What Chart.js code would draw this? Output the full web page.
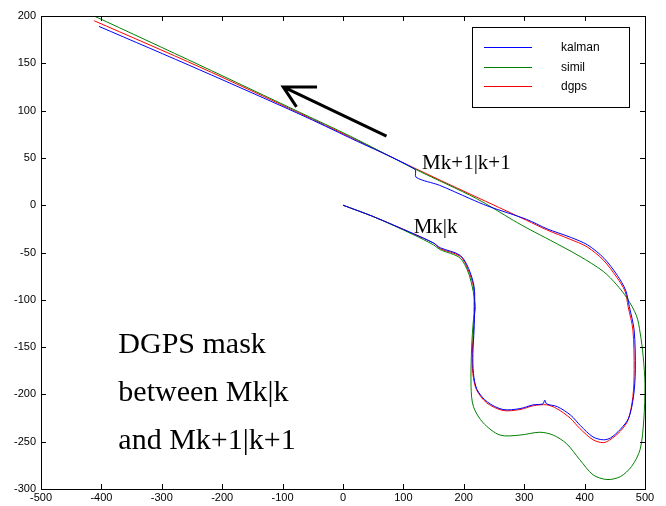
<!DOCTYPE html>
<html>
<head>
<meta charset="utf-8">
<script src="https://cdn.jsdelivr.net/npm/chart.js@4/dist/chart.umd.min.js"></script>
<style>
body { margin: 0; background: #fff; }
#wrap { width: 666px; height: 506px; position: relative; }
</style>
</head>
<body>
<div id="wrap"><canvas id="traj"></canvas></div>
<script>
// vehicle track, metres (x east, y north)
var kalmanX = [0, 50, 116, 150, 161, 194, 208, 217, 218, 217, 215, 216, 222, 239, 265, 293, 315, 331, 334, 337, 355, 377, 393, 414, 431, 443, 459, 473, 481, 484, 482, 474, 468, 454, 432, 405, 377, 338, 304, 240, 210, 160, 121, 119, 12, -71, -237, -404];
var kalmanY = [0, -12, -30, -40, -45, -53, -67, -86, -107, -132, -157, -178, -195, -208, -216, -215, -211, -210, -206, -210, -213, -222, -233, -245, -248, -246, -237, -225, -202, -174, -132, -107, -90, -74, -56, -42, -34, -25, -15, -1, 7, 21, 29.5, 38, 71, 96, 143, 189];

var similX = [0, 50, 116, 150, 161, 194, 210, 219, 216, 213, 212, 216, 232, 260, 293, 326, 348, 370, 392, 414, 437, 459, 478, 492, 498, 500, 497, 492, 486, 470, 453, 431, 392, 343, 310, 282, 221, 123, 12, -71, -237, -412];
var similY = [0, -12, -31, -42, -47, -56, -76, -107, -121, -150, -192, -213, -230, -243, -243, -240, -243, -252, -269, -285, -290, -287, -276, -258, -227, -190, -160, -135, -117, -98, -84, -70, -54, -37, -26, -16, 7, 37, 73, 98, 148, 200];

var dgpsX = [0, 50, 116, 150, 161, 194, 207, 216, 217, 216, 214, 215, 221, 238, 265, 293, 315, 337, 354, 376, 392, 414, 431, 442, 459, 472, 480, 482, 480, 472, 467, 453, 431, 404, 376, 337, 304, 119, 12, -71, -237, -412];
var dgpsY = [0, -12, -30, -40, -46, -54, -68, -86, -107, -132, -157, -178, -195, -209, -217, -216, -212, -211, -215, -225, -236, -248, -251, -248, -239, -227, -202, -174, -132, -107, -91, -76, -58, -44, -36, -26, -16, 39, 72, 97, 146, 195];

var seriesNames = ['kalman', 'simil', 'dgps'];
var seriesColors = ['#0000ff', '#008000', '#ff0000'];

// direction arrow (tail, tip, two barbs)
var arrowX = [72, -99, -43, -77];
var arrowY = [73, 125, 125, 104];

var notes = [
  { text: 'Mk+1|k+1', x: 131, y: 38, size: 21 },
  { text: 'Mk|k', x: 117, y: -29, size: 21 },
  { text: 'DGPS mask', x: -372, y: -156, size: 30 },
  { text: 'between Mk|k', x: -372, y: -207, size: 30 },
  { text: 'and Mk+1|k+1', x: -372, y: -258, size: 30 }
];

function toPoints(xs, ys) {
  return xs.map(function(x, i) { return { x: x, y: ys[i] }; });
}

var tickFont = { family: '"Liberation Sans", Arial, sans-serif', size: 11 };

// box, inward ticks, arrow, labels, legend
var decorations = {
  id: 'decorations',
  afterDatasetsDraw: function(chart) {
    var ctx = chart.ctx, a = chart.chartArea;
    var sx = chart.scales.x, sy = chart.scales.y;
    ctx.save();
    ctx.strokeStyle = '#000';
    ctx.lineWidth = 1;
    ctx.strokeRect(a.left + 0.5, a.top + 0.5, a.right - a.left, a.bottom - a.top);
    ctx.beginPath();
    sx.ticks.forEach(function(t) {
      var p = Math.round(sx.getPixelForValue(t.value)) + 0.5;
      ctx.moveTo(p, a.bottom); ctx.lineTo(p, a.bottom - 5);
      ctx.moveTo(p, a.top); ctx.lineTo(p, a.top + 5);
    });
    sy.ticks.forEach(function(t) {
      var p = Math.round(sy.getPixelForValue(t.value)) + 0.5;
      ctx.moveTo(a.left, p); ctx.lineTo(a.left + 5, p);
      ctx.moveTo(a.right, p); ctx.lineTo(a.right - 5, p);
    });
    ctx.stroke();

    // arrow
    ctx.lineWidth = 3;
    ctx.beginPath();
    var tip = [sx.getPixelForValue(arrowX[1]), sy.getPixelForValue(arrowY[1])];
    ctx.moveTo(sx.getPixelForValue(arrowX[0]), sy.getPixelForValue(arrowY[0]));
    ctx.lineTo(tip[0], tip[1]);
    ctx.moveTo(sx.getPixelForValue(arrowX[2]), sy.getPixelForValue(arrowY[2]));
    ctx.lineTo(tip[0], tip[1]);
    ctx.lineTo(sx.getPixelForValue(arrowX[3]), sy.getPixelForValue(arrowY[3]));
    ctx.stroke();

    // text notes
    ctx.fillStyle = '#000';
    ctx.textBaseline = 'alphabetic';
    ctx.textAlign = 'left';
    notes.forEach(function(n) {
      ctx.font = n.size + 'px "Liberation Serif", "Times New Roman", serif';
      ctx.fillText(n.text, sx.getPixelForValue(n.x), sy.getPixelForValue(n.y));
    });

    // legend box, top right inside the axes
    var bx = a.right - 173, by = a.top + 11, bw = 157, bh = 80;
    ctx.fillStyle = '#fff';
    ctx.fillRect(bx, by, bw, bh);
    ctx.strokeStyle = '#000';
    ctx.lineWidth = 1;
    ctx.strokeRect(bx + 0.5, by + 0.5, bw, bh);
    ctx.font = '12px "Liberation Sans", Arial, sans-serif';
    ctx.textBaseline = 'middle';
    seriesNames.forEach(function(name, i) {
      var ly = Math.round(by + 20 + i * 19.5) + 0.5;
      ctx.strokeStyle = seriesColors[i];
      ctx.beginPath();
      ctx.moveTo(bx + 12, ly);
      ctx.lineTo(bx + 60, ly);
      ctx.stroke();
      ctx.fillStyle = '#000';
      ctx.fillText(name, bx + 89, ly);
    });
    ctx.restore();
  }
};

var tracks = [toPoints(kalmanX, kalmanY), toPoints(similX, similY), toPoints(dgpsX, dgpsY)];

new Chart(document.getElementById('traj'), {
  type: 'scatter',
  data: {
    datasets: tracks.map(function(pts, i) {
      return {
        label: seriesNames[i],
        data: pts,
        showLine: true,
        borderColor: seriesColors[i],
        borderWidth: 1,
        pointRadius: 0,
        tension: 0.3,
        fill: false
      };
    })
  },
  options: {
    responsive: true,
    maintainAspectRatio: false,
    animation: false,
    layout: { padding: { top: 16, right: 21, left: 0, bottom: 0 } },
    plugins: { legend: { display: false }, tooltip: { enabled: false } },
    scales: {
      x: {
        type: 'linear',
        min: -500, max: 500,
        ticks: { stepSize: 100, color: '#000', font: tickFont, padding: 2, maxRotation: 0 },
        grid: { drawOnChartArea: false, drawTicks: false },
        border: { color: '#000' },
        afterFit: function(s) { s.height = 17; }
      },
      y: {
        type: 'linear',
        min: -300, max: 200,
        ticks: { stepSize: 50, color: '#000', font: tickFont, padding: 5 },
        grid: { drawOnChartArea: false, drawTicks: false },
        border: { color: '#000' },
        afterFit: function(s) { s.width = 41; }
      }
    }
  },
  plugins: [decorations]
});
</script>
</body>
</html>
